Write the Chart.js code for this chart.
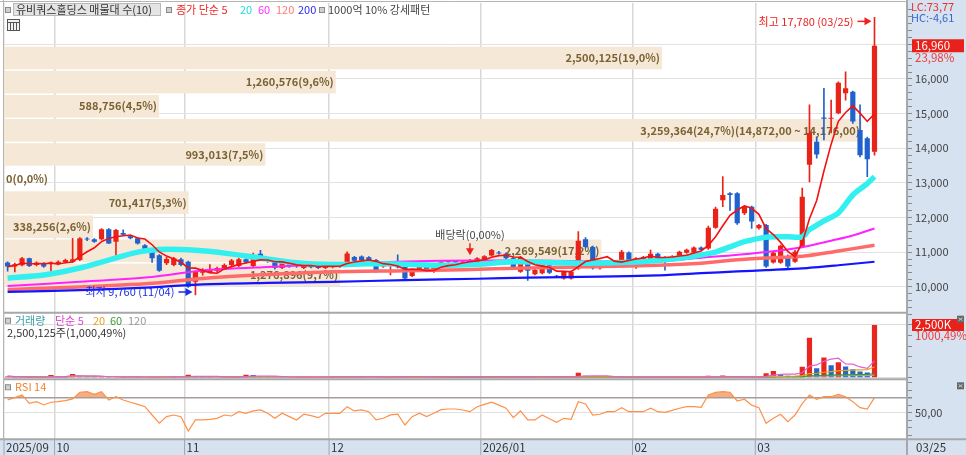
<!DOCTYPE html>
<html>
<head>
<meta charset="utf-8">
<script src="https://cdn.jsdelivr.net/npm/chart.js@4.4.1/dist/chart.umd.min.js"></script>
<style>
html, body { margin: 0; padding: 0; background: #fff; }
#wrap { width: 966px; height: 455px; position: relative; }
</style>
</head>
<body>
<div id="wrap"><canvas id="stockChart" width="966" height="455"></canvas></div>
<script>
// month ticks of the x axis and trading days per month
const months = ['2025/09', '10', '11', '12', '2026/01', '02', '03'];
const monthDays = [7, 18, 20, 21, 21, 17, 17];
const lastDate = '03/25';
const emptySlots = 4;

// daily candles (price, KRW)
const opens = [10700,10580,10620,10820,10630,10680,10680,10650,10710,10720,
  10770,11380,11370,11370,11660,11300,11550,11460,11400,11200,
  11080,10910,10680,10630,10790,10720,10140,10400,10420,10460,
  10520,10630,10600,10790,10600,10950,10800,10770,10540,10640,
  10610,10540,10680,10610,10540,10560,10640,10630,10860,10870,
  10850,10770,10580,10600,10580,10630,10310,10470,10580,10430,
  10690,10710,10740,10650,10680,10650,10780,10900,10990,10950,
  10820,10430,10720,10360,10390,10620,10300,10240,10240,10530,
  11370,11150,10530,10600,10710,10770,10990,10720,10760,10800,
  10950,10850,10780,10860,10980,10980,11130,11100,11700,12500,
  12700,12700,12120,12310,11690,11780,10700,10690,10890,10720,
  11160,13520,14190,14890,14850,15010,15590,15630,14530,14290,
  13900];
const highs = [10720,10680,10850,10830,10720,10700,10720,10750,10800,11400,
  11420,11420,11390,11680,11680,11660,11640,11480,11420,11220,
  11100,10930,10850,10850,10830,10740,10460,10520,10640,10570,
  10660,10790,10820,10810,10970,11050,10830,10790,10710,10660,
  10700,10660,10700,10640,10640,10650,10680,11010,10880,10890,
  10870,10790,10650,10650,10920,10650,10500,10600,10600,10600,
  10720,10740,10760,10740,10790,10840,10900,11080,11020,10980,
  10840,10880,10740,10510,10640,10640,10330,10450,10460,11590,
  11420,11170,10640,10720,10740,11050,11010,10840,10880,11060,
  10970,10870,10900,11030,11090,11150,11150,11750,12300,13180,
  12720,12720,12330,12330,11800,11800,11000,11200,10920,11050,
  12850,15250,14330,15730,15390,15920,16210,15650,15250,14320,
  17780];
const lows = [10450,10430,10600,10580,10600,10560,10440,10630,10690,10700,
  10750,11330,11280,11350,11240,10910,11480,11380,11230,11070,
  10700,10440,10640,10600,10600,9980,9760,10330,10400,10420,
  10500,10600,10580,10680,10580,10800,10700,10510,10520,10560,
  10560,10520,10540,10520,10520,10540,10560,10610,10720,10740,
  10730,10410,10560,10340,10540,10220,10290,10450,10440,10410,
  10600,10700,10680,10630,10660,10630,10760,10880,10940,10800,
  10540,10410,10180,10340,10370,10380,10270,10220,10220,10500,
  11120,10510,10510,10580,10680,10750,10750,10530,10740,10780,
  10800,10480,10760,10840,10960,10960,11050,11080,11680,12310,
  12200,11800,12080,11680,11660,10560,10680,10670,10550,10700,
  11140,13030,13710,14240,14440,14990,15390,14720,13750,13180,
  13800];
const closes = [10580,10650,10820,10600,10690,10580,10700,10720,10770,10790,
  11400,11360,11300,11660,11250,11640,11500,11400,11250,11090,
  10820,10460,10800,10820,10630,10000,10430,10470,10500,10540,
  10630,10760,10790,10700,10790,10830,10740,10540,10680,10590,
  10600,10630,10560,10540,10600,10620,10630,10960,10750,10770,
  10750,10430,10630,10630,10560,10240,10480,10580,10460,10580,
  10700,10720,10700,10720,10770,10820,10880,11060,10960,10820,
  10560,10850,10460,10480,10620,10400,10290,10430,10430,11330,
  11150,10530,10620,10700,10690,11010,10770,10820,10860,10950,
  10820,10770,10880,11010,11070,11130,11070,11700,12250,12650,
  12650,11830,12310,11880,11780,10580,10980,11180,10580,11010,
  12600,14440,13820,14850,14880,15890,15730,14770,13800,13680,
  16960];

// daily volume (shares)
const volumes = [60000,35000,50000,30000,25000,20000,130000,40000,55000,180000,
  60000,40000,30000,55000,45000,50000,30000,25000,30000,25000,
  35000,50000,30000,35000,25000,140000,80000,35000,30000,25000,
  30000,35000,30000,140000,130000,50000,35000,40000,30000,25000,
  20000,30000,25000,20000,25000,30000,25000,60000,35000,30000,
  25000,40000,25000,30000,35000,45000,30000,25000,20000,25000,
  20000,15000,20000,15000,20000,25000,20000,30000,25000,20000,
  30000,35000,40000,25000,30000,25000,20000,25000,30000,235000,
  90000,70000,40000,30000,25000,35000,30000,25000,20000,30000,
  25000,30000,25000,30000,25000,30000,20000,90000,40000,100000,
  25000,30000,20000,40000,35000,210000,315000,175000,95000,70000,
  520000,1900000,445000,960000,588756,730000,530576,399364,298123,249890,
  2500125];

// RSI 14
const rsi14 = [67,70,73.6,62.5,64.7,60.3,63.9,64.7,66,68.3,
  77.2,78,74.5,78,66.9,71.3,66.9,63.9,61,58,
  46.9,35.9,44.7,46.9,44.7,25.6,40.3,40.3,41,42.5,
  46.9,45.6,51.3,49.2,52.3,53.6,49.2,42.5,49.2,44.7,
  40.3,47.9,46,43.3,49.2,49.2,49.2,58,52.3,53.6,
  51.3,40.3,42.5,47,47.9,33.6,44.7,49.2,44.7,49.2,
  54,54.9,54.9,53.6,51.3,58,61,63.9,60,55.9,
  43.3,52.3,40.3,40.3,46.9,42,37.1,42.5,41.1,64.7,
  61.6,46.9,47.9,51.3,51.3,56.7,51.3,51.3,51.3,55.9,
  51.3,50.5,53,55.9,58,58,57.2,73.6,77,78,
  77.2,65.6,67.9,60,56.7,35.9,42.5,47.9,38.1,46.9,
  62,73.6,67.9,71.3,71.3,74.5,71.3,64.7,56.7,54.9,
  70];

// moving averages: [day index, price]
const ma20Pts = [[0,10250],[5,10340],[10,10540],[14,10770],[18,11000],[22,11080],[26,11050],
  [30,10970],[35,10830],[40,10690],[45,10640],[50,10660],[55,10650],[60,10620],[65,10650],
  [70,10720],[75,10700],[80,10680],[85,10700],[90,10760],[94,10850],[98,11000],[100,11150],
  [102,11300],[105,11430],[108,11440],[110,11440],[111,11650],[113,11900],[115,12130],
  [117,12650],[119,12980],[120,13180]];
const ma60Pts = [[0,10020],[10,10140],[20,10280],[27,10470],[36,10570],[45,10650],[55,10730],
  [65,10760],[75,10750],[85,10730],[92,10760],[97,10860],[100,10900],[105,11000],[110,11140],
  [114,11330],[117,11480],[120,11680]];
const ma120Pts = [[0,9920],[10,9990],[20,10100],[27,10240],[36,10350],[45,10430],[55,10460],
  [63,10490],[72,10540],[82,10580],[90,10620],[96,10680],[101,10780],[105,10830],[110,10880],
  [115,11030],[120,11200]];
const ma200Pts = [[0,9850],[10,9900],[20,9980],[27,10070],[36,10110],[45,10140],[55,10190],
  [65,10230],[72,10260],[82,10290],[90,10330],[96,10390],[101,10440],[105,10480],[110,10530],
  [115,10620],[120,10720]];

// volume profile (매물대), bottom bin first
const profileLow = 10000;
const profileStep = 696;
const profileVol = [1276896, 2269549, 338256, 701417, 0, 993013, 3259364, 588756, 1260576, 2500125];

const hiIdx = 120, loIdx = 26, exDivIdx = 64;
const hiText = '최고 17,780 (03/25)';
const loText = '최저 9,760 (11/04)';
const lcText = 'LC:73,77', hcText = 'HC:-4,61';

const RED = '#ea2318', BLUE = '#1f62cc';
const KR = '"Noto Sans CJK KR", "Noto Sans", sans-serif';
Chart.defaults.font.family = KR;
Chart.defaults.font.size = 11;

const labels = [];
const monthStart = [];
months.forEach(function (m, k) {
  monthStart.push(labels.length);
  for (let d = 0; d < monthDays[k]; d++) labels.push(m + '-' + d);
});
for (let k = 0; k < emptySlots; k++) labels.push('pad' + k);

function movingAvg(arr, n) {
  return arr.map(function (v, i) {
    const s = arr.slice(Math.max(0, i - n + 1), i + 1);
    return s.reduce((a, b) => a + b, 0) / s.length;
  });
}
function pts(list) { return list.map(p => ({ x: labels[p[0]], y: p[1] })); }
function fmt(n) { return Math.round(n).toLocaleString('en-US'); }

const candleColor = closes.map((c, i) => c >= opens[i] ? RED : BLUE);
const volColor = volumes.map((v, i) => (i > 0 && v < volumes[i - 1]) ? '#2467cc' : '#e8261e');
const ma5 = movingAvg(closes, 5);

const last = closes.length - 1;
const profMax = Math.max.apply(null, profileVol);
const profTotal = profileVol.reduce((a, b) => a + b, 0);

function arrow(ctx, x1, y1, x2, y2, color) {
  const ang = Math.atan2(y2 - y1, x2 - x1);
  ctx.strokeStyle = color; ctx.fillStyle = color; ctx.lineWidth = 1.5;
  ctx.beginPath(); ctx.moveTo(x1, y1);
  ctx.lineTo(x2 - 5 * Math.cos(ang), y2 - 5 * Math.sin(ang)); ctx.stroke();
  ctx.beginPath(); ctx.moveTo(x2, y2);
  ctx.lineTo(x2 - 7 * Math.cos(ang) + 4 * Math.sin(ang), y2 - 7 * Math.sin(ang) - 4 * Math.cos(ang));
  ctx.lineTo(x2 - 7 * Math.cos(ang) - 4 * Math.sin(ang), y2 - 7 * Math.sin(ang) + 4 * Math.cos(ang));
  ctx.closePath(); ctx.fill();
}
function text(ctx, s, x, y, color, font, align) {
  ctx.fillStyle = color; ctx.font = font || ('11px ' + KR);
  ctx.textAlign = align || 'left'; ctx.textBaseline = 'middle';
  ctx.fillText(s, x, y);
  return ctx.measureText(s).width;
}
function square(ctx, x, y) {
  ctx.fillStyle = '#d0d0d0'; ctx.fillRect(x, y, 5, 5);
  ctx.strokeStyle = '#8a8a8a'; ctx.lineWidth = 1; ctx.strokeRect(x + 0.5, y + 0.5, 5, 5);
}
// stacked panels: keep each axis exactly in its own box
function fitAxis(s) { s.width = 59; s.paddingTop = 0; s.paddingBottom = 0; }

const paint = {
  id: 'paint',
  beforeDraw: function (chart) {
    const ctx = chart.ctx, ca = chart.chartArea;
    ctx.save();
    ctx.fillStyle = '#ffffff'; ctx.fillRect(0, 0, chart.width, chart.height);
    ctx.fillStyle = '#d6e2f0';
    ctx.fillRect(ca.right, 0, chart.width - ca.right, chart.height);
    ctx.fillRect(0, ca.bottom, chart.width, chart.height - ca.bottom);
    ctx.restore();
  },
  beforeDatasetsDraw: function (chart) {
    // price-by-volume bands behind the candles
    const ctx = chart.ctx, y = chart.scales.y, xp = chart.scales.xp, ca = chart.chartArea;
    const font = 'bold 11px ' + KR;
    ctx.save();
    ctx.beginPath(); ctx.rect(ca.left, y.top, ca.right - ca.left, y.bottom - y.top); ctx.clip();
    profileVol.forEach(function (v, k) {
      const lo = profileLow + k * profileStep, hi = lo + profileStep;
      const yt = y.getPixelForValue(hi) + 1, yb = y.getPixelForValue(lo) - 0.5;
      const xr = xp.getPixelForValue(v);
      ctx.fillStyle = '#f6e8d6';
      ctx.fillRect(ca.left, yt, xr - ca.left, yb - yt);
      let s = fmt(v) + '(' + (v / profTotal * 100).toFixed(1).replace('.', ',') + '%)';
      if (v === profMax) s += '(' + fmt(hi) + ',00 ~ ' + fmt(lo) + ',00)';
      ctx.font = font;
      const w = ctx.measureText(s).width;
      if (w + 4 > xr - ca.left) text(ctx, s, ca.left + 2, (yt + yb) / 2, '#7b6234', font, 'left');
      else text(ctx, s, xr - 2, (yt + yb) / 2, '#7b6234', font, 'right');
    });
    ctx.restore();
  },
  afterDatasetsDraw: function (chart) {
    const ctx = chart.ctx, x = chart.scales.x, y = chart.scales.y;
    ctx.save();
    // highest / lowest marks
    const xh = x.getPixelForValue(hiIdx), yh = y.getPixelForValue(highs[hiIdx]) + 4;
    text(ctx, hiText, xh - 21, yh, '#ee2020', '11px ' + KR, 'right');
    arrow(ctx, xh - 17, yh, xh - 3, yh, '#ee2020');
    const xl = x.getPixelForValue(loIdx), yl = y.getPixelForValue(lows[loIdx]) - 3;
    text(ctx, loText, xl - 21, yl, '#1a2ee6', '11px ' + KR, 'right');
    arrow(ctx, xl - 17, yl, xl - 3, yl, '#1a2ee6');
    // ex-dividend mark
    const xd = x.getPixelForValue(exDivIdx), yd = y.getPixelForValue(highs[exDivIdx]) - 4;
    text(ctx, '배당락(0,00%)', xd, yd - 21, '#444', '11px ' + KR, 'center');
    arrow(ctx, xd, yd - 12, xd, yd, '#ee2020');
    ctx.restore();
  },
  afterDraw: function (chart) {
    const ctx = chart.ctx, ca = chart.chartArea, x = chart.scales.x;
    const y = chart.scales.y, yv = chart.scales.yv, yr = chart.scales.yr;
    ctx.save();
    // panel borders
    ctx.strokeStyle = '#a8a8a8'; ctx.lineWidth = 2;
    ctx.beginPath();
    ctx.moveTo(ca.left, yv.top); ctx.lineTo(ca.right, yv.top);
    ctx.moveTo(ca.left, yr.top); ctx.lineTo(ca.right, yr.top);
    ctx.moveTo(0, ca.bottom); ctx.lineTo(chart.width, ca.bottom);
    ctx.moveTo(ca.right, 0); ctx.lineTo(ca.right, chart.height);
    ctx.stroke();
    ctx.lineWidth = 1; ctx.strokeStyle = '#b4b4b4';
    ctx.beginPath();
    ctx.moveTo(0, 1.5); ctx.lineTo(ca.right, 1.5);
    ctx.moveTo(ca.left - 0.5, 0); ctx.lineTo(ca.left - 0.5, ca.bottom);
    ctx.stroke();

    // x axis month labels
    const slot = (x.right - x.left) / labels.length;
    ctx.strokeStyle = '#98a6b6'; ctx.lineWidth = 1;
    monthStart.forEach(function (idx, k) {
      const xx = x.getPixelForValue(idx) - slot / 2;
      ctx.beginPath(); ctx.moveTo(xx, ca.bottom); ctx.lineTo(xx, chart.height); ctx.stroke();
      text(ctx, months[k], Math.max(xx + 2, 5), ca.bottom + 8.5, '#333', '11.5px ' + KR);
    });
    text(ctx, lastDate, ca.right + 9, ca.bottom + 8.5, '#333', '11.5px ' + KR);

    // legends
    square(ctx, 5, 7);
    ctx.fillStyle = '#e4e4e4'; ctx.fillRect(13, 3, 148, 13);
    ctx.strokeStyle = '#b8b8b8'; ctx.strokeRect(13.5, 3.5, 147, 12);
    text(ctx, '유비쿼스홀딩스 매물대 수(10)', 16, 10, '#333', '11px ' + KR);
    square(ctx, 166, 7);
    text(ctx, '종가 단순 5', 176, 10, '#f02828');
    text(ctx, '20', 240, 10, '#1ee0e0');
    text(ctx, '60', 258, 10, '#ff30ff');
    text(ctx, '120', 276, 10, '#ff7a7a');
    text(ctx, '200', 298, 10, '#2a2af0');
    square(ctx, 319, 7);
    text(ctx, '1000억 10% 강세패턴', 328, 10, '#444');
    ctx.strokeStyle = '#555'; ctx.fillStyle = '#f2f2f2';
    ctx.fillRect(7.5, 19.5, 12, 11); ctx.strokeRect(7.5, 19.5, 12, 11);
    ctx.beginPath();
    ctx.moveTo(7.5, 22.5); ctx.lineTo(19.5, 22.5);
    for (let k = 1; k < 4; k++) { ctx.moveTo(7.5 + k * 3, 22.5); ctx.lineTo(7.5 + k * 3, 30.5); }
    ctx.stroke();

    const vPrev = volumes[last - 1], vLast = volumes[last];
    const vPct = (vLast / vPrev * 100).toFixed(2).split('.');
    square(ctx, 5, yv.top + 5);
    text(ctx, '거래량', 15, yv.top + 8, '#3a9ea6');
    text(ctx, '단순 5', 55, yv.top + 8, '#dc46cc');
    text(ctx, '20', 93, yv.top + 8, '#e8a020');
    text(ctx, '60', 110, yv.top + 8, '#3a9a3a');
    text(ctx, '120', 128, yv.top + 8, '#9a9a9a');
    text(ctx, fmt(vLast) + '주(' + fmt(+vPct[0]) + ',' + vPct[1] + '%)', 7, yv.top + 20, '#333');
    square(ctx, 5, yr.top + 5);
    text(ctx, 'RSI 14', 15, yr.top + 8, '#f08232');

    // right side value boxes
    text(ctx, lcText, ca.right + 4, 7, '#e83030');
    text(ctx, hcText, ca.right + 4, 17.5, '#3a66d0');
    const yc = y.getPixelForValue(closes[last]);
    ctx.fillStyle = '#e8211a'; ctx.fillRect(ca.right + 5, yc - 6.5, 52, 13);
    text(ctx, fmt(closes[last]), ca.right + 8, yc, '#ffffff', '11.5px ' + KR);
    const chg = ((closes[last] / closes[last - 1] - 1) * 100).toFixed(2).replace('.', ',');
    text(ctx, chg + '%', ca.right + 8, yc + 12, '#ee3a3a', '11.5px ' + KR);
    const yvl = yv.getPixelForValue(vLast);
    ctx.fillStyle = '#e8211a'; ctx.fillRect(ca.right + 5, yvl - 6, 52, 12);
    text(ctx, fmt(vLast / 1000) + 'K', ca.right + 8, yvl, '#ffffff', '11.5px ' + KR);
    text(ctx, vPct[0] + ',' + vPct[1] + '%', ca.right + 8, yvl + 11, '#ee3a3a', '11.5px ' + KR);
    [yv.top + 3, yr.top + 3].forEach(function (yy) {
      ctx.fillStyle = '#666'; ctx.fillRect(chart.width - 9, yy, 7, 7);
      ctx.strokeStyle = '#ccc'; ctx.lineWidth = 1;
      ctx.beginPath(); ctx.moveTo(chart.width - 7.5, yy + 2); ctx.lineTo(chart.width - 3.5, yy + 5);
      ctx.moveTo(chart.width - 3.5, yy + 2); ctx.lineTo(chart.width - 7.5, yy + 5); ctx.stroke();
    });
    ctx.restore();
  }
};

function lineSet(data, color, width, axis, order, extra) {
  return Object.assign({
    type: 'line', data: data, borderColor: color, borderWidth: width,
    pointRadius: 0, tension: 0.25, fill: false, xAxisID: 'x', yAxisID: axis, order: order
  }, extra || {});
}

const datasets = [
  {
    type: 'bar', label: 'wick', data: highs.map((h, i) => [lows[i], h]),
    backgroundColor: candleColor, barThickness: 1, grouped: false,
    xAxisID: 'x', yAxisID: 'y', order: 4
  },
  {
    type: 'bar', label: 'body', data: opens.map((o, i) => [o, closes[i]]),
    backgroundColor: candleColor, barPercentage: 0.72, categoryPercentage: 1,
    minBarLength: 1, grouped: false, xAxisID: 'x', yAxisID: 'y', order: 3
  },
  lineSet(pts(ma200Pts), '#1414ff', 2.2, 'y', 2),
  lineSet(pts(ma120Pts), '#ff6b6b', 3.5, 'y', 2),
  lineSet(pts(ma60Pts), '#ff22ff', 2, 'y', 2),
  lineSet(pts(ma20Pts), '#33f0f0', 5.5, 'y', 1),
  lineSet(ma5, '#f41010', 1.6, 'y', 0, { tension: 0 }),
  {
    type: 'bar', label: 'volume', data: volumes, backgroundColor: volColor,
    barPercentage: 0.72, categoryPercentage: 1, grouped: false,
    xAxisID: 'x', yAxisID: 'yv', order: 9
  },
  lineSet(movingAvg(volumes, 120), '#a8a8a8', 1.2, 'yv', 8, { tension: 0 }),
  lineSet(movingAvg(volumes, 60), '#3a9a3a', 1.2, 'yv', 7, { tension: 0 }),
  lineSet(movingAvg(volumes, 20), '#eaa21e', 1.2, 'yv', 6, { tension: 0 }),
  lineSet(movingAvg(volumes, 5), '#e060d8', 1.2, 'yv', 5, { tension: 0 }),
  lineSet(rsi14, '#ff9048', 1.2, 'yr', 5, {
    tension: 0,
    fill: { target: { value: 70 }, above: 'rgba(236,140,82,0.7)', below: 'rgba(0,0,0,0)' }
  })
];

new Chart(document.getElementById('stockChart'), {
  data: { labels: labels, datasets: datasets },
  options: {
    responsive: false,
    animation: false,
    events: [],
    layout: { padding: { left: 4, top: 3, right: 0, bottom: 15.7 } },
    plugins: { legend: { display: false }, tooltip: { enabled: false } },
    scales: {
      x: {
        type: 'category', offset: true,
        grid: {
          offset: true, drawTicks: false, lineWidth: 1.5,
          color: ctx => monthStart.includes(ctx.index) ? '#d8d8d8' : 'rgba(0,0,0,0)'
        },
        ticks: { display: false }, border: { display: false }
      },
      xp: { type: 'linear', axis: 'x', display: false, min: 0, max: profMax / 0.95 },
      y: {
        position: 'right', stack: 'panels', stackWeight: 309.7,
        min: 9249, max: 18195,
        afterBuildTicks: function (s) {
          s.ticks = [];
          for (let v = 9400; v <= 18000; v += 200) s.ticks.push({ value: v });
        },
        afterFit: fitAxis,
        grid: {
          tickLength: 5, tickColor: '#8a8a8a',
          color: ctx => (ctx.tick && ctx.tick.value % 1000 === 0 && ctx.tick.value <= 17000) ? '#e2e2e2' : 'rgba(0,0,0,0)'
        },
        border: { display: false },
        ticks: {
          autoSkip: false, color: '#444', padding: 3, font: { size: 11 },
          callback: v => (v % 1000 === 0 && v <= 17000) ? fmt(v) : ''
        }
      },
      yv: {
        position: 'right', stack: 'panels', stackWeight: 66.6,
        min: -76000, max: 3083000,
        afterBuildTicks: function (s) {
          s.ticks = [];
          for (let v = 0; v <= 3000000; v += 500000) s.ticks.push({ value: v });
        },
        afterFit: fitAxis,
        grid: {
          tickLength: 5, tickColor: '#8a8a8a',
          color: ctx => (ctx.tick && (ctx.tick.value === 0 || ctx.tick.value === 2500000)) ? '#dcdcdc' : 'rgba(0,0,0,0)'
        },
        border: { display: false },
        ticks: { autoSkip: false, callback: () => '' }
      },
      yr: {
        position: 'right', stack: 'panels', stackWeight: 60,
        min: 14.5, max: 94.5,
        afterBuildTicks: function (s) {
          s.ticks = [];
          for (let v = 20; v <= 90; v += 10) s.ticks.push({ value: v });
        },
        afterFit: fitAxis,
        grid: {
          tickLength: 5, tickColor: '#8a8a8a',
          lineWidth: ctx => (ctx.tick && ctx.tick.value === 70) ? 1.5 : 1,
          color: ctx => {
            if (!ctx.tick) return 'rgba(0,0,0,0)';
            if (ctx.tick.value === 70) return '#a0a0a0';
            if (ctx.tick.value === 50) return '#e0e0e0';
            return 'rgba(0,0,0,0)';
          }
        },
        border: { display: false },
        ticks: { autoSkip: false, color: '#444', padding: 3, font: { size: 11 }, callback: v => v === 50 ? '50,00' : '' }
      }
    }
  },
  plugins: [paint]
});
</script>
</body>
</html>
